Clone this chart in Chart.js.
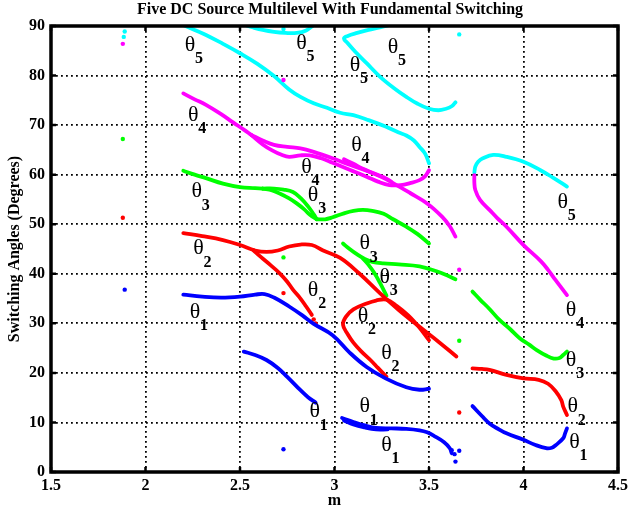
<!DOCTYPE html>
<html><head><meta charset="utf-8">
<script src="https://cdn.jsdelivr.net/npm/chart.js@4/dist/chart.umd.min.js"></script>
<style>html,body{margin:0;padding:0;background:#fff}</style>
</head><body>
<canvas id="c" width="628" height="509"></canvas>
<script>
// ---------- DATA: [m, degrees] ----------
// theta1 (blue)
const th1_A = [[2.20,35.8],[2.30,35.4],[2.40,35.2],[2.50,35.4],[2.58,35.8],[2.63,35.9],[2.68,35.2],[2.76,33.4],[2.83,31.6],[2.89,29.9],[2.99,27.6],[3.08,24.1],[3.17,21.2],[3.27,18.9],[3.38,17.1],[3.45,16.6],[3.50,16.8]];
const th1_B = [[2.52,24.3],[2.58,23.6],[2.64,22.6],[2.70,21.0],[2.75,19.2],[2.82,16.5],[2.86,15.1],[2.90,14.0]];
const th1_C1 = [[3.04,10.9],[3.10,10.1],[3.16,9.4],[3.22,8.9],[3.30,8.8],[3.38,8.7],[3.45,8.4],[3.49,8.0],[3.53,7.2],[3.58,6.0],[3.61,4.8],[3.62,3.8]];
const th1_C2 = [[3.05,10.4],[3.10,9.6],[3.16,9.0],[3.22,8.6],[3.28,8.6]];
const th1_D = [[3.73,13.3],[3.78,11.3],[3.82,9.8],[3.87,8.6],[3.91,7.8],[4.00,6.5],[4.06,5.5],[4.12,4.8],[4.15,4.9],[4.17,5.4],[4.21,6.8],[4.22,7.8],[4.23,8.8]];
const th1_dots = [[3.62,4.4],[3.635,3.6],[3.64,2.1],[3.66,4.3],[2.73,4.6],[1.89,36.8]];
// theta2 (red)
const th2_A = [[2.20,48.2],[2.30,47.6],[2.41,46.8],[2.50,45.8],[2.58,44.7],[2.64,44.4],[2.70,44.7],[2.76,45.5],[2.82,45.9],[2.88,45.8],[2.94,44.7],[3.03,43.2],[3.13,40.1],[3.24,36.1],[3.34,32.7],[3.45,29.3],[3.55,26.3],[3.645,23.3]];
const th2_B = [[2.57,44.8],[2.61,43.4],[2.66,41.8],[2.71,40.1],[2.75,38.4],[2.78,36.8],[2.82,35.0],[2.85,33.4],[2.88,31.7]];
const th2_C = [[3.275,19.2],[3.23,21.0],[3.19,22.6],[3.14,24.4],[3.10,26.1],[3.07,27.8],[3.045,29.7],[3.06,31.3],[3.10,32.8],[3.17,34.0],[3.22,34.6],[3.275,34.8],[3.33,33.5],[3.39,31.6],[3.45,29.1],[3.50,26.6]];
const th2_D = [[3.73,20.9],[3.78,20.8],[3.82,20.6],[3.91,19.6],[4.00,18.9],[4.08,18.6],[4.13,17.8],[4.17,16.3],[4.20,14.5],[4.21,13.2],[4.23,11.5]];
const th2_dots = [[2.89,30.8],[2.90,30.0],[2.73,36.1],[1.88,51.3],[3.66,12.0]];
// theta3 (green)
const th3_A = [[2.20,60.8],[2.26,60.0],[2.32,59.3],[2.41,58.2],[2.50,57.5],[2.58,57.3],[2.62,57.2]];
const th3_Aup = [[2.62,57.2],[2.68,57.2],[2.73,57.0],[2.78,56.5],[2.82,55.3],[2.86,53.6],[2.89,52.0],[2.905,51.1]];
const th3_Alo = [[2.62,57.2],[2.67,56.8],[2.71,56.2],[2.76,55.2],[2.80,54.2],[2.84,53.0],[2.87,51.9],[2.905,51.0]];
const th3_B = [[2.905,51.0],[2.95,51.0],[2.99,51.4],[3.05,52.2],[3.10,52.7],[3.15,52.9],[3.20,52.7],[3.26,52.1],[3.31,51.0],[3.38,49.5],[3.44,48.0],[3.50,46.1]];
const th3_C = [[3.045,46.1],[3.08,45.0],[3.12,43.9],[3.16,43.0],[3.20,42.4],[3.26,42.1],[3.34,41.9],[3.45,41.5],[3.54,40.5],[3.60,39.6],[3.64,38.9]];
const th3_Cb = [[3.15,43.1],[3.18,41.8],[3.21,40.2],[3.24,38.2],[3.275,35.6]];
const th3_D = [[3.73,36.4],[3.77,34.8],[3.82,32.9],[3.87,30.8],[3.93,28.8],[3.98,27.0],[4.03,25.7],[4.07,24.6],[4.12,23.5],[4.16,22.9],[4.19,23.0],[4.21,23.6],[4.23,24.3]];
const th3_dots = [[2.73,43.3],[1.88,67.2],[3.66,26.5]];
// theta4 (magenta)
const th4_A = [[2.20,76.4],[2.26,75.2],[2.32,74.1],[2.40,72.2],[2.465,70.5],[2.52,69.1],[2.56,68.0]];
const th4_Aup = [[2.56,68.0],[2.62,66.9],[2.68,66.0],[2.75,65.6],[2.82,65.3],[2.89,64.6],[2.99,63.3],[3.08,62.0],[3.17,60.8],[3.25,59.5],[3.31,58.3],[3.40,56.3],[3.49,54.2],[3.57,51.5],[3.61,49.6],[3.64,47.5]];
const th4_Alo = [[2.56,68.0],[2.62,66.1],[2.67,64.9],[2.72,64.0],[2.76,63.6],[2.82,63.9],[2.87,63.9],[2.93,63.3],[2.99,62.4],[3.08,61.0],[3.17,59.6],[3.23,58.6],[3.29,57.9],[3.35,57.9],[3.40,58.3],[3.45,58.9],[3.48,59.7],[3.50,60.9]];
const th4_B = [[3.05,63.1],[3.10,62.2],[3.15,61.2],[3.20,60.4],[3.26,59.5],[3.30,58.6]];
const th4_C = [[3.74,59.9],[3.74,58.4],[3.745,56.9],[3.77,54.9],[3.82,52.9],[3.86,51.3],[3.91,49.5],[4.00,45.8],[4.09,42.6],[4.13,40.8],[4.17,38.7],[4.20,37.2],[4.23,35.7]];
const th4_dots = [[3.66,40.8],[1.88,86.4],[2.73,79.1]];
// theta5 (cyan)
const th5_A = [[2.20,90.2],[2.26,89.2],[2.32,88.2],[2.41,86.4],[2.50,84.5],[2.59,82.4],[2.68,79.9],[2.76,77.2],[2.82,75.7],[2.89,74.4],[2.96,73.5],[3.03,72.5],[3.10,72.0],[3.18,71.0],[3.27,69.7],[3.34,68.5],[3.38,67.9],[3.42,66.9],[3.45,65.6],[3.48,64.2],[3.50,62.3]];
const th5_B = [[2.52,90.3],[2.57,89.7],[2.62,89.2],[2.68,88.8],[2.74,88.6],[2.80,88.6],[2.85,89.1],[2.89,90.2]];
const th5_C = [[3.29,90.2],[3.24,89.7],[3.18,89.2],[3.12,88.6],[3.07,88.0],[3.05,87.5],[3.07,86.5],[3.11,84.8],[3.17,82.5],[3.24,79.8],[3.31,77.6],[3.38,75.7],[3.44,74.3],[3.50,73.3],[3.55,73.0],[3.59,73.3],[3.62,73.8],[3.64,74.6]];
const th5_D = [[3.74,60.4],[3.745,61.6],[3.76,62.6],[3.785,63.3],[3.84,64.0],[3.91,63.6],[4.00,62.6],[4.09,60.9],[4.16,59.3],[4.23,57.6]];
const th5_dots = [[2.73,89.4],[3.66,88.3],[1.89,88.9],[1.885,87.8]];

// label anchors [m, degrees, subscript]
const thetaLabels = [
  [2.236,86.2,'5'],[2.826,86.5,'5'],[3.108,82.1,'5'],[3.310,85.8,'5'],[4.208,54.5,'5'],
  [2.253,72.0,'4'],[2.852,61.6,'4'],[3.116,66.0,'4'],[4.252,32.7,'4'],
  [2.271,56.6,'3'],[2.887,55.9,'3'],[3.160,46.1,'3'],[3.266,39.4,'3'],[4.252,22.6,'3'],
  [2.280,45.1,'2'],[2.887,36.7,'2'],[3.151,31.5,'2'],[3.275,24.0,'2'],[4.261,13.2,'2'],
  [2.262,32.3,'1'],[2.896,12.2,'1'],[3.160,13.2,'1'],[3.275,5.4,'1'],[4.270,6.1,'1']
];
const titleText = 'Five DC Source Multilevel With Fundamental Switching';
const xTitle = 'm';
const yTitle = 'Switching Angles (Degrees)';

// ---------- build ----------
const groups = [
  {color:'#0000ff', lines:[th1_A,th1_B,th1_C1,th1_C2,th1_D], dots:th1_dots},
  {color:'#ff0000', lines:[th2_A,th2_B,th2_C,th2_D], dots:th2_dots},
  {color:'#00ff00', lines:[th3_A,th3_Aup,th3_Alo,th3_B,th3_C,th3_Cb,th3_D], dots:th3_dots},
  {color:'#ff00ff', lines:[th4_A,th4_Aup,th4_Alo,th4_B,th4_C], dots:th4_dots},
  {color:'#00ffff', lines:[th5_A,th5_B,th5_C,th5_D], dots:th5_dots}
];
const toXY = a => a.map(p => ({x:p[0], y:p[1]}));
const datasets = [];
groups.forEach(g => {
  g.lines.forEach(l => datasets.push({data:toXY(l), showLine:true, borderColor:g.color, backgroundColor:g.color,
    borderWidth:3.8, pointRadius:0, tension:0.4, borderCapStyle:'round', borderJoinStyle:'round'}));
  datasets.push({data:toXY(g.dots), showLine:false, pointRadius:2.2, pointBorderWidth:0,
    backgroundColor:g.color, borderColor:g.color});
});

const serif = "'Liberation Serif','Times New Roman',serif";
const decor = {
  id:'decor',
  afterDatasetsDraw(chart){
    const {ctx, chartArea:a, scales:{x, y}} = chart;
    ctx.save();
    ctx.fillStyle = '#000';
    ctx.textAlign = 'center'; ctx.textBaseline = 'middle';
    thetaLabels.forEach(l => {
      const px = x.getPixelForValue(l[0]), py = y.getPixelForValue(l[1]);
      ctx.font = '22px ' + serif;
      ctx.fillText('\u03b8', px, py);
      ctx.font = 'bold 16px ' + serif;
      ctx.fillText(l[2], px + 9, py + 14);
    });
    ctx.strokeStyle = '#000'; ctx.lineWidth = 3.5;
    ctx.strokeRect(a.left, a.top, a.right - a.left, a.bottom - a.top);
    ctx.lineWidth = 2.5;
    x.ticks.forEach(t => {
      const px = x.getPixelForValue(t.value);
      ctx.beginPath(); ctx.moveTo(px, a.bottom); ctx.lineTo(px, a.bottom - 5);
      ctx.moveTo(px, a.top); ctx.lineTo(px, a.top + 5); ctx.stroke();
    });
    y.ticks.forEach(t => {
      const py = y.getPixelForValue(t.value);
      ctx.beginPath(); ctx.moveTo(a.left, py); ctx.lineTo(a.left + 5, py);
      ctx.moveTo(a.right, py); ctx.lineTo(a.right - 5, py); ctx.stroke();
    });
    ctx.font = 'bold 16px ' + serif;
    ctx.textBaseline = 'middle';
    ctx.fillText(titleText, 330, 10);
    ctx.fillText(xTitle, (a.left + a.right) / 2, 501);
    ctx.translate(15, (a.top + a.bottom) / 2);
    ctx.rotate(-Math.PI / 2);
    ctx.fillText(yTitle, 0, 0);
    ctx.restore();
  }
};

const tickFont = {family:serif, weight:'bold', size:16};
const fmt = v => String(Math.round(v * 10) / 10);
new Chart(document.getElementById('c'), {
  type:'scatter',
  data:{datasets},
  options:{
    responsive:false, animation:false, devicePixelRatio:1,
    layout:{padding:{top:26, right:10, left:0, bottom:0}},
    plugins:{legend:{display:false}, tooltip:{enabled:false}, title:{display:false}},
    scales:{
      x:{type:'linear', min:1.5, max:4.5,
        ticks:{stepSize:0.5, font:tickFont, color:'#000', padding:4, maxRotation:0, autoSkip:false, callback:fmt},
        grid:{color:'#000', lineWidth:1.8, drawTicks:false},
        border:{display:false, dash:[1.8,3.2]},
        afterFit(s){ s.height = 37; s.paddingLeft = 0; s.paddingRight = 0; }
      },
      y:{type:'linear', min:0, max:90,
        ticks:{stepSize:10, font:tickFont, color:'#000', padding:6, callback:fmt},
        grid:{color:'#000', lineWidth:1.8, drawTicks:false},
        border:{display:false, dash:[1.8,3.2]},
        afterFit(s){ s.width = 51; s.paddingTop = 0; s.paddingBottom = 0; }
      }
    }
  },
  plugins:[decor]
});
</script>
</body></html>
